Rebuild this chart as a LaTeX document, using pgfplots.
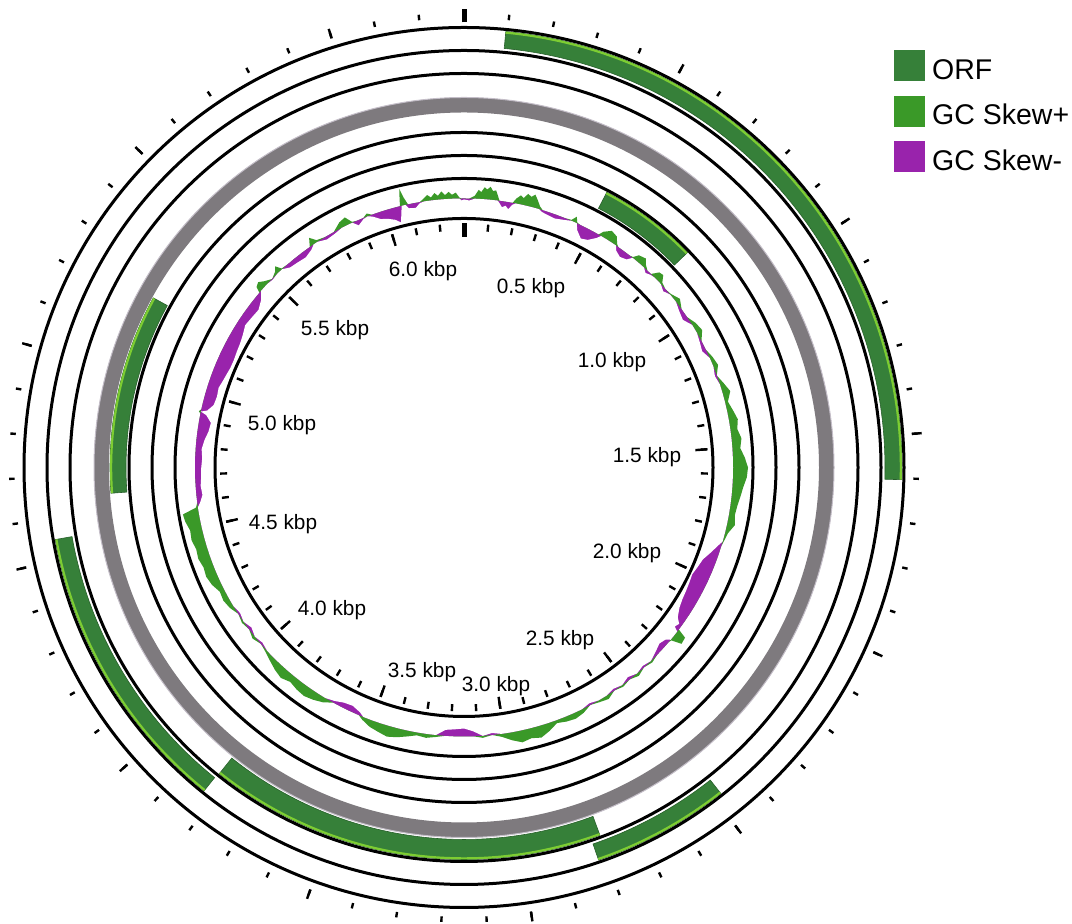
\documentclass[border=0pt]{standalone}
\usepackage{pgfplots}
\pgfplotsset{compat=1.18}
\usepackage{pgfplotstable}
\usepackage{fontspec}
\setmainfont{Liberation Sans}

\definecolor{orf}{RGB}{54,128,57}
\definecolor{orfedge}{RGB}{125,205,50}
\definecolor{skewpos}{RGB}{58,153,40}
\definecolor{skewneg}{RGB}{153,35,172}
\definecolor{backbone}{RGB}{126,122,126}
\definecolor{backboneedge}{RGB}{196,190,200}

\newcommand\glen{6300}   % sequence length (bp)
\newcommand\rbase{269}   % GC skew baseline radius (axis units)
\newcommand\rskew{20}    % GC skew full-scale height (axis units)

% GC skew: window position (bp) and scaled skew (-1..1)
\pgfplotstableread{
pos skew
0 -0.05
20 -0.1
40 0.15
53 0.45
63 0.35
74 0.6
84 0.5
95 0.65
105 0.45
116 0.5
126 0.2
133 -0.1
145 -0.3
158 -0.2
170 -0.35
182 -0.1
193 0.25
207 0.45
219 0.35
231 0.6
245 0.5
257 0.65
271 0.4
284 0.15
298 -0.1
320 -0.15
350 -0.2
385 -0.1
411 0.05
424 0.3
434 0.05
446 -0.3
473 -0.6
499 -0.5
525 -0.2
536 0.25
560 0.5
586 0.4
602 0.1
613 -0.2
639 -0.35
665 -0.25
679 0.05
691 0.3
718 0.4
735 0.15
753 -0.15
770 -0.05
788 0.35
805 0.4
823 0.1
849 -0.15
875 0.05
910 0.25
945 -0.15
980 -0.25
1015 0.2
1050 0.3
1085 -0.1
1120 -0.2
1155 0.15
1190 0.25
1225 -0.1
1260 0.2
1295 0.4
1330 0.15
1365 0.3
1400 0.45
1435 0.35
1470 0.5
1505 0.4
1540 0.6
1575 0.75
1610 0.7
1645 0.55
1680 0.45
1715 0.35
1750 0.3
1785 0.4
1820 0.15
1855 0.05
1873 -0.15
1908 -0.4
1943 -0.65
1978 -0.75
2013 -0.85
2048 -0.8
2083 -0.75
2118 -0.7
2153 -0.6
2188 -0.4
2205 -0.15
2223 -0.25
2233 0.5
2258 0.55
2272 0.05
2284 -0.2
2310 -0.3
2345 -0.15
2380 0.1
2415 -0.1
2450 0.15
2485 -0.15
2520 0.1
2555 -0.1
2590 0.2
2625 0.1
2660 -0.1
2695 0.2
2730 0.3
2765 0.25
2800 0.15
2835 0.4
2870 0.6
2905 0.5
2940 0.6
2975 0.4
3010 0.15
3045 -0.1
3080 0.1
3115 -0.25
3150 -0.4
3185 -0.35
3220 -0.3
3255 0.1
3290 0.2
3325 0.15
3360 0.3
3395 0.45
3430 0.55
3465 0.45
3500 0.35
3535 0.15
3553 -0.15
3588 -0.3
3623 -0.25
3658 -0.1
3693 0.25
3728 0.4
3763 0.5
3798 0.45
3833 0.35
3868 0.5
3903 0.4
3938 0.25
3973 0.1
4008 -0.1
4043 0.15
4078 -0.15
4113 0.1
4148 -0.1
4183 0.2
4218 0.3
4253 0.25
4288 0.45
4323 0.55
4358 0.5
4393 0.6
4428 0.55
4463 0.65
4498 0.6
4533 0.75
4559 0.8
4576 0.1
4594 -0.15
4620 -0.3
4655 -0.25
4690 -0.3
4716 -0.3
4760 -0.35
4795 -0.3
4830 -0.4
4865 -0.55
4900 -0.6
4926 -0.3
4935 0.1
4944 -0.3
4970 -0.55
5005 -0.6
5040 -0.55
5075 -0.65
5101 -0.7
5128 -0.75
5163 -0.75
5198 -0.7
5233 -0.65
5268 -0.55
5303 -0.4
5338 -0.45
5381 -0.5
5416 -0.3
5434 -0.1
5443 0.3
5460 0.4
5478 0.2
5504 -0.05
5530 0.15
5544 0.35
5556 0.05
5583 -0.2
5618 -0.25
5653 -0.3
5688 -0.15
5705 0.4
5723 0.1
5758 -0.15
5793 -0.1
5828 0.3
5854 0.4
5871 0.05
5889 -0.25
5915 -0.05
5933 0.15
5950 -0.1
5976 -0.35
6003 -0.45
6029 -0.6
6048 -0.8
6059 -0.3
6066 0.5
6071 0.85
6080 0.35
6090 -0.2
6116 -0.25
6134 -0.05
6151 0.15
6165 0.3
6178 0.15
6192 0.35
6204 0.2
6218 0.4
6230 0.2
6244 0.35
6256 0.2
6270 0.3
6283 0.05
6291 -0.1
}\gcskew

% ORFs: start, end (bp), inner and outer radius of the slot
\pgfplotstableread{
start end rin rout
96 1603 421 438
2481 2819 398 415
3829 4550 398 415
2795 3826 372 392
4652 5226 338 354
480 807 292 310
}\orfs

\begin{document}
\begin{tikzpicture}[font=\fontsize{10.4}{12.5}\selectfont]
\begin{axis}[
  x=0.5pt, y=0.5pt,
  xmin=-464, xmax=608, ymin=-452.5, ymax=467.5,
  hide axis, clip=false,
  legend style={
    at={(axis cs:430,417.5)}, anchor=north west,
    draw=none, fill=none, inner sep=0pt, row sep=6.75pt,
    font=\fontsize{14.25}{17}\selectfont,
    nodes={inner sep=0pt},
  },
  legend cell align=left,
]
\path (axis cs:-464,-452.5) rectangle (axis cs:608,467.5);

% GC skew: positive part outward from the baseline
\addplot[fill=skewpos, draw=none, forget plot] table[
  x expr={(\rbase+\rskew*max(\thisrow{skew},0))*sin(\thisrow{pos}/\glen*360)},
  y expr={(\rbase+\rskew*max(\thisrow{skew},0))*cos(\thisrow{pos}/\glen*360)}] {\gcskew};
% negative part inward from the baseline
\addplot[fill=skewneg, draw=none, forget plot] table[
  x expr={\rbase*sin(\thisrow{pos}/\glen*360)},
  y expr={\rbase*cos(\thisrow{pos}/\glen*360)}] {\gcskew};
\addplot[fill=white, draw=none, forget plot] table[
  x expr={(\rbase+\rskew*min(\thisrow{skew},0))*sin(\thisrow{pos}/\glen*360)},
  y expr={(\rbase+\rskew*min(\thisrow{skew},0))*cos(\thisrow{pos}/\glen*360)}] {\gcskew};

% backbone
\draw[backbone, line width=7.5pt] (axis cs:0,0) circle[radius=181.25pt];
\draw[backboneedge, line width=0.5pt] (axis cs:0,0) circle[radius=185pt];

% ORF arcs
\pgfplotstablegetrowsof{\orfs}
\pgfmathtruncatemacro\lastorf{\pgfplotsretval-1}
\pgfplotsforeachungrouped \k in {0,...,\lastorf}{%
  \pgfplotstablegetelem{\k}{start}\of\orfs \let\os\pgfplotsretval
  \pgfplotstablegetelem{\k}{end}\of\orfs \let\oe\pgfplotsretval
  \pgfplotstablegetelem{\k}{rin}\of\orfs \let\oi\pgfplotsretval
  \pgfplotstablegetelem{\k}{rout}\of\orfs \let\oo\pgfplotsretval
  \pgfmathsetmacro\aa{90-\os/\glen*360}%
  \pgfmathsetmacro\ab{90-\oe/\glen*360}%
  \pgfmathsetmacro\ri{0.5*\oi}%
  \pgfmathsetmacro\ro{0.5*\oo}%
  \pgfmathsetmacro\dr{\ri-\ro}%
  \pgfmathsetmacro\re{\ro-0.55}%
  \edef\orfpath{%
    \noexpand\filldraw[fill=orf, draw=orf!75!black, line width=0.3pt]
      (axis cs:0,0) ++(\aa:\ro pt) arc[start angle=\aa, end angle=\ab, radius=\ro pt]
      -- ++(\ab:\dr pt) arc[start angle=\ab, end angle=\aa, radius=\ri pt] -- cycle;
    \noexpand\draw[orfedge, line width=1.1pt]
      (axis cs:0,0) ++(\aa:\re pt) arc[start angle=\aa, end angle=\ab, radius=\re pt];
  }\orfpath
}

% legend
\addlegendimage{legend image code/.code={\fill[orf] (0pt,-5.1pt) rectangle (15pt,9.9pt); \path (18.5pt,0pt);}}
\addlegendentry{ORF}
\addlegendimage{legend image code/.code={\fill[skewpos] (0pt,-5.1pt) rectangle (15pt,9.9pt); \path (18.5pt,0pt);}}
\addlegendentry{GC Skew+}
\addlegendimage{legend image code/.code={\fill[skewneg] (0pt,-5.1pt) rectangle (15pt,9.9pt); \path (18.5pt,0pt);}}
\addlegendentry{GC Skew-}

% position labels
\node at (axis cs:-41,196.5) {6.0 kbp};
\node at (axis cs:67,179.5) {0.5 kbp};
\node at (axis cs:148,105.5) {1.0 kbp};
\node at (axis cs:183,10.5) {1.5 kbp};
\node at (axis cs:163,-85.5) {2.0 kbp};
\node at (axis cs:96,-172.5) {2.5 kbp};
\node at (axis cs:32,-218.5) {3.0 kbp};
\node at (axis cs:-42,-204.5) {3.5 kbp};
\node at (axis cs:-132,-142.5) {4.0 kbp};
\node at (axis cs:-181,-56.5) {4.5 kbp};
\node at (axis cs:-182,42.5) {5.0 kbp};
\node at (axis cs:-129,137.5) {5.5 kbp};

\coordinate (O) at (axis cs:0,0);
\end{axis}

% ring outlines and tick marks
\begin{scope}[shift={(O)}]
  \foreach \r in {440,417,394,335,312,289,249}
    \draw[line width=1.5pt] (0,0) circle[radius={0.5pt*\r}];
  \foreach \i in {1,...,62} {
    \pgfmathsetmacro\t{90-\i*100/\glen*360}
    \draw[line width=1.2pt] (\t:224.75pt) -- (\t:227.5pt);
    \draw[line width=1.2pt] (\t:118.5pt) -- (\t:122pt);
  }
  \foreach \i in {5,10,...,60} {
    \pgfmathsetmacro\t{90-\i*100/\glen*360}
    \draw[line width=1.2pt] (\t:224.5pt) -- (\t:229.5pt);
    \draw[line width=1.2pt] (\t:116pt) -- (\t:122pt);
  }
  \draw[line width=2.5pt] (90:222.5pt) -- (90:229pt);
  \draw[line width=2.5pt] (90:115.25pt) -- (90:122.25pt);
\end{scope}
\end{tikzpicture}
\end{document}
